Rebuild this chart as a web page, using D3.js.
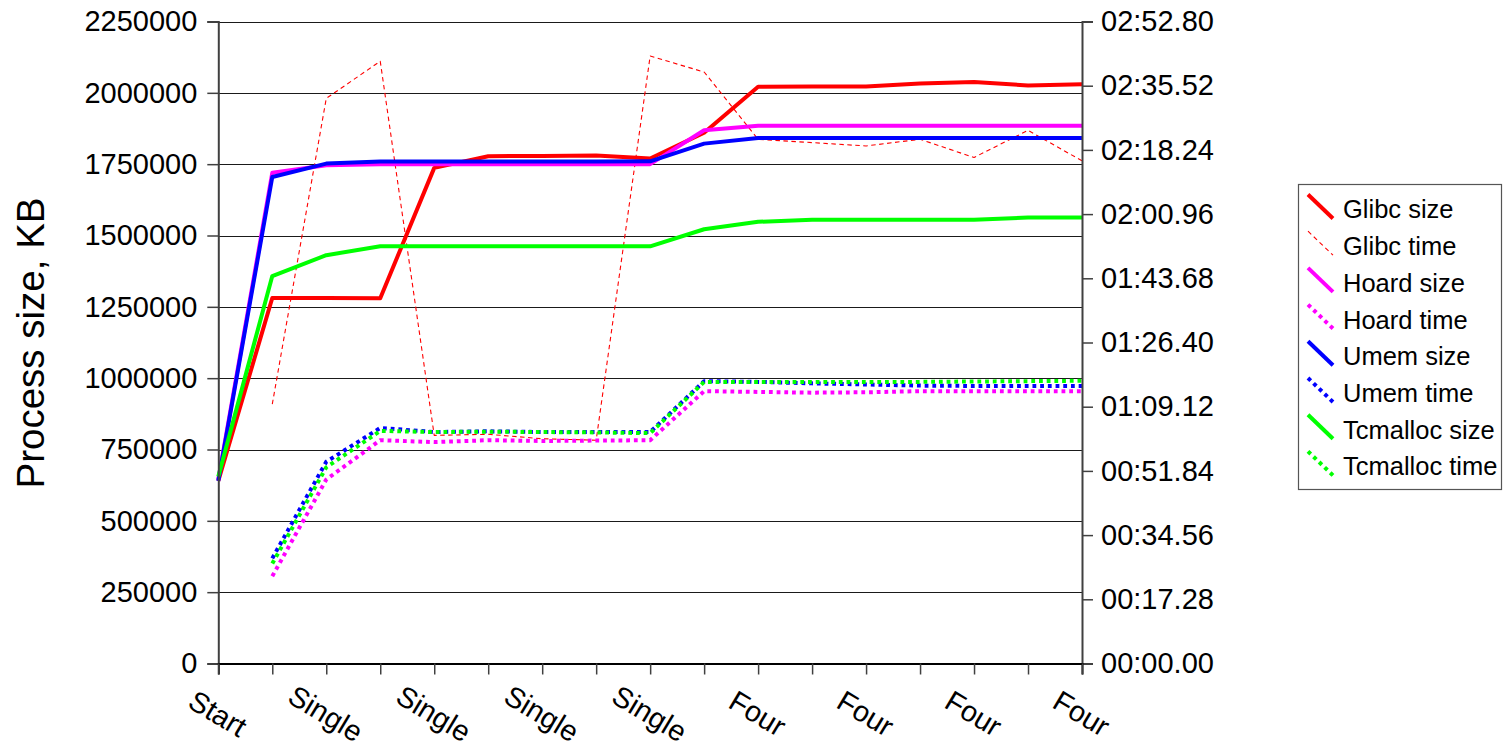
<!DOCTYPE html>
<html>
<head>
<meta charset="utf-8">
<script src="https://cdn.jsdelivr.net/npm/d3@7"></script>
<style>
  html, body { margin: 0; padding: 0; background: #fff; }
  svg { display: block; font-family: "Liberation Sans", Arial, sans-serif; }
</style>
</head>
<body>
<svg id="chart" width="1503" height="751"></svg>
<script>
// ---------- data ----------
const categories = ["Start", "Single", "Single", "Single", "Single", "Single", "Single", "Single", "Single",
                    "Four", "Four", "Four", "Four", "Four", "Four", "Four", "Four"];
const sizeTicks = [0, 250000, 500000, 750000, 1000000, 1250000, 1500000, 1750000, 2000000, 2250000];
const timeTicks = [0, 17.28, 34.56, 51.84, 69.12, 86.40, 103.68, 120.96, 138.24, 155.52, 172.80];

const glibcSize    = [640000, 1281000, 1281000, 1280000, 1737000, 1778000, 1779000, 1780000, 1770000, 1860000, 2021000, 2022000, 2022000, 2033000, 2038000, 2026000, 2030000];
const hoardSize    = [645000, 1720000, 1746000, 1750000, 1750000, 1750000, 1750000, 1750000, 1750000, 1869000, 1885000, 1885000, 1885000, 1885000, 1885000, 1885000, 1885000];
const umemSize     = [640000, 1705000, 1752000, 1759000, 1759000, 1759000, 1759000, 1759000, 1760000, 1822000, 1842000, 1842000, 1842000, 1842000, 1842000, 1842000, 1842000];
const tcmallocSize = [655000, 1358000, 1431000, 1462000, 1462000, 1462000, 1462000, 1462000, 1462000, 1522000, 1548000, 1555000, 1555000, 1555000, 1555000, 1563000, 1563000];

// times in seconds (right axis)
const glibcTime    = [null, 69.8, 152.1, 162.1, 61.4, 61.7, 60.5, 60.1, 163.5, 159.2, 141.1, 140.2, 139.3, 141.1, 136.2, 143.5, 135.3];
const hoardTime    = [null, 23.5, 49.5, 60.1, 59.6, 60.1, 59.9, 60.0, 60.1, 73.3, 73.1, 72.9, 73.0, 73.3, 73.3, 73.3, 73.3];
const umemTime     = [null, 28.3, 54.3, 63.4, 62.3, 62.5, 62.3, 62.3, 62.3, 76.0, 75.8, 75.4, 75.1, 74.8, 74.7, 74.7, 74.7];
const tcmallocTime = [null, 26.9, 52.8, 62.6, 62.3, 62.4, 62.3, 62.2, 62.0, 75.8, 75.8, 75.8, 75.8, 75.8, 75.9, 76.0, 76.1];

const seriesNames = ["Glibc size", "Glibc time", "Hoard size", "Hoard time", "Umem size", "Umem time", "Tcmalloc size", "Tcmalloc time"];

// ---------- layout ----------
const L = 218.3, R = 1082, T = 21.5, B = 663.5;
const svg = d3.select("#chart");

const idx = d3.range(categories.length);
const x = d3.scalePoint().domain(idx).range([L, R]);
const y = d3.scaleLinear().domain([0, 2250000]).range([B, T]);
const yR = d3.scaleLinear().domain([0, 172.8]).range([B, T]);

const fmtTime = s => {
  const m = Math.floor(s / 60 + 1e-9);
  const sec = s - m * 60;
  return String(m).padStart(2, "0") + ":" + sec.toFixed(2).padStart(5, "0");
};

const series = [
  { name: seriesNames[0], data: glibcSize,    axis: y,  color: "#ff0000", width: 4,   dash: null,      kind: "solid" },
  { name: seriesNames[1], data: glibcTime,    axis: yR, color: "#ff0000", width: 1.1, dash: "4.5,3.5", kind: "dash" },
  { name: seriesNames[2], data: hoardSize,    axis: y,  color: "#ff00ff", width: 4,   dash: null,      kind: "solid" },
  { name: seriesNames[3], data: hoardTime,    axis: yR, color: "#ff00ff", width: 4,   dash: "3.8,3.9", kind: "dot" },
  { name: seriesNames[4], data: umemSize,     axis: y,  color: "#0000ff", width: 4,   dash: null,      kind: "solid" },
  { name: seriesNames[5], data: umemTime,     axis: yR, color: "#0000ff", width: 4,   dash: "3.8,3.9", kind: "dot" },
  { name: seriesNames[6], data: tcmallocSize, axis: y,  color: "#00ff00", width: 4,   dash: null,      kind: "solid" },
  { name: seriesNames[7], data: tcmallocTime, axis: yR, color: "#00ff00", width: 4,   dash: "3.8,3.9", kind: "dot" }
];

// ---------- gridlines ----------
svg.append("g").selectAll("line").data(sizeTicks.filter(d => d > 0)).join("line")
  .attr("x1", L).attr("x2", R)
  .attr("y1", d => Math.round(y(d)) + 0.5).attr("y2", d => Math.round(y(d)) + 0.5)
  .attr("stroke", "#1a1a1a").attr("stroke-width", 1.2);

// ---------- series ----------
const gLines = svg.append("g");
series.forEach(s => {
  const line = d3.line()
    .defined(d => d != null)
    .x((d, i) => x(i))
    .y(d => s.axis(d));
  gLines.append("path")
    .datum(s.data)
    .attr("d", line)
    .attr("fill", "none")
    .attr("stroke", s.color)
    .attr("stroke-width", s.width)
    .attr("stroke-linejoin", "round")
    .attr("stroke-dasharray", s.dash);
});

// ---------- axes ----------
const axisColor = "#404040";
const leftAxis = svg.append("g").attr("transform", `translate(${L},0)`)
  .call(d3.axisLeft(y).tickValues(sizeTicks).tickSize(11).tickPadding(10).tickFormat(d3.format("d")));
const rightAxis = svg.append("g").attr("transform", `translate(${R},0)`)
  .call(d3.axisRight(yR).tickValues(timeTicks).tickSize(11).tickPadding(8).tickFormat(fmtTime));
const bottomAxis = svg.append("g").attr("transform", `translate(0,${B})`)
  .call(d3.axisBottom(x).tickSize(11).tickFormat(i => i % 2 === 0 ? categories[i] : ""));

[leftAxis, rightAxis, bottomAxis].forEach(g => {
  g.select(".domain").attr("stroke", axisColor).attr("stroke-width", 2);
  g.selectAll(".tick line").attr("stroke", axisColor).attr("stroke-width", 1.5);
  g.selectAll("text").attr("fill", "#000").attr("font-size", 29)
    .attr("font-family", "'Liberation Sans', Arial, sans-serif");
});
bottomAxis.select(".domain").attr("stroke", "#000");

bottomAxis.selectAll(".tick text")
  .attr("font-size", 29)
  .attr("text-anchor", "middle")
  .attr("y", 0).attr("dy", "0.35em")
  .attr("transform", "translate(-1,50) rotate(31)");

// ---------- y title ----------
svg.append("text")
  .attr("transform", "translate(44,343) rotate(-90)")
  .attr("text-anchor", "middle")
  .attr("font-size", 38.5)
  .attr("fill", "#000")
  .text("Process size, KB");

// ---------- legend ----------
const lg = svg.append("g");
lg.append("rect")
  .attr("x", 1298.5).attr("y", 184.5).attr("width", 203).attr("height", 305)
  .attr("fill", "#fff").attr("stroke", "#555").attr("stroke-width", 1.2);
series.forEach((s, i) => {
  const cy = 209.5 + i * 36.7;
  lg.append("line")
    .attr("x1", 1308).attr("y1", cy - 15).attr("x2", 1333).attr("y2", cy + 9)
    .attr("stroke", s.color)
    .attr("stroke-width", s.kind === "dash" ? 1.1 : 4)
    .attr("stroke-dasharray", s.dash);
  lg.append("text")
    .attr("x", 1343).attr("y", cy).attr("dy", "0.35em")
    .attr("font-size", 25.5).attr("fill", "#000")
    .text(s.name);
});
</script>
</body>
</html>
